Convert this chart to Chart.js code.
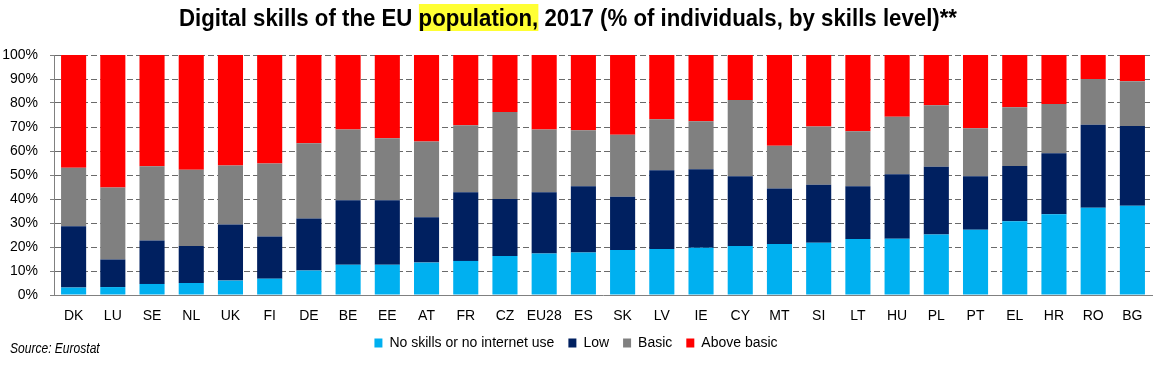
<!DOCTYPE html>
<html>
<head>
<meta charset="utf-8">
<script src="https://cdn.jsdelivr.net/npm/chart.js@4.4.1/dist/chart.umd.min.js"></script>
<style>
  html, body { margin: 0; padding: 0; background: #fff; }
  #wrap { position: relative; width: 1159px; height: 366px; }
  #titulo {
    position: absolute; top: 4px; left: 0; width: 1136px; text-align: center;
    font-family: 'Liberation Sans', Arial, sans-serif;
    font-weight: bold; font-size: 24px; color: #000;
    transform: scaleX(0.926); transform-origin: 568px 0;
  }
  #titulo span { background: #ffff33; }
  #fonte {
    position: absolute; left: 10px; top: 340px;
    font-family: 'Liberation Sans', Arial, sans-serif;
    font-style: italic; font-size: 14px; color: #000;
    transform: scaleX(0.86); transform-origin: 0 0;
  }
  canvas { position: absolute; left: 0; top: 0; }
</style>
</head>
<body>
<div id="wrap">
  <canvas id="grafico" width="1159" height="366"></canvas>
  <div id="titulo">Digital skills of the EU <span>population,</span> 2017 (% of individuals, by skills level)**</div>
  <div id="fonte">Source: Eurostat</div>
</div>
<script>
// Dados (% de indivíduos)
const paises = ['DK', 'LU', 'SE', 'NL', 'UK', 'FI', 'DE', 'BE', 'EE', 'AT', 'FR', 'CZ', 'EU28', 'ES',
  'SK', 'LV', 'IE', 'CY', 'MT', 'SI', 'LT', 'HU', 'PL', 'PT', 'EL', 'HR', 'RO', 'BG'];

const semCompetencias = [3.1, 3.3, 4.6, 5.0, 6.0, 6.8, 10.2, 12.6, 12.6, 13.5, 14.2, 16.3, 17.3, 17.7,
  18.8, 19.2, 19.7, 20.4, 21.3, 21.8, 23.3, 23.4, 25.2, 27.2, 30.7, 33.6, 36.4, 37.2];
const baixo = [25.5, 11.5, 18.1, 15.4, 23.4, 17.6, 21.7, 26.9, 26.9, 18.9, 28.6, 23.7, 25.5, 27.6,
  22.1, 32.8, 32.7, 29.1, 23.1, 24.1, 22.0, 26.9, 28.2, 22.3, 23.0, 25.5, 34.5, 33.2];
const basico = [24.4, 30.0, 30.9, 31.8, 24.6, 30.4, 31.3, 29.5, 25.8, 31.6, 27.9, 36.3, 26.2, 23.3,
  25.9, 21.2, 20.0, 31.7, 17.8, 24.3, 22.9, 24.0, 25.7, 20.0, 24.5, 20.5, 19.1, 18.7];
const acimaBasico = [47.1, 55.2, 46.4, 47.8, 46.0, 45.2, 36.8, 31.0, 34.7, 36.0, 29.3, 23.7, 31.0, 31.4,
  33.2, 26.8, 27.6, 18.8, 37.8, 29.8, 31.8, 25.7, 20.9, 30.5, 21.8, 20.4, 10.0, 10.9];

const ticksY = [0, 10, 20, 30, 40, 50, 60, 70, 80, 90, 100];

const fonteTexto = "'Liberation Sans', Arial, sans-serif";

function serie(rotulo, dados, cor) {
  return {
    label: rotulo,
    data: dados,
    backgroundColor: cor,
    borderWidth: 0,
    categoryPercentage: 1.0,
    barPercentage: 0.64
  };
}

new Chart(document.getElementById('grafico'), {
  type: 'bar',
  data: {
    labels: paises,
    datasets: [
      serie('No skills or no internet use', semCompetencias, '#00b0f0'),
      serie('Low', baixo, '#002060'),
      serie('Basic', basico, '#808080'),
      serie('Above basic', acimaBasico, '#ff0000')
    ]
  },
  options: {
    responsive: false,
    animation: false,
    layout: { padding: { top: 55, right: 7, left: 0, bottom: 6 } },
    plugins: {
      title: { display: false },
      tooltip: { enabled: false },
      legend: {
        position: 'bottom',
        labels: {
          boxWidth: 8,
          boxHeight: 9,
          padding: 14,
          color: '#000',
          font: { family: fonteTexto, size: 14 }
        }
      }
    },
    scales: {
      x: {
        stacked: true,
        grid: { display: false },
        border: { color: '#808080', width: 1 },
        ticks: {
          color: '#000',
          padding: 5,
          maxRotation: 0,
          autoSkip: false,
          font: { family: fonteTexto, size: 14 }
        },
        afterFit: function (eixo) { eixo.height = 27; }
      },
      y: {
        stacked: true,
        min: 0,
        max: 100,
        afterBuildTicks: function (eixo) {
          eixo.ticks = ticksY.map(v => ({ value: v }));
        },
        afterFit: function (eixo) { eixo.width = 54; },
        grid: {
          color: '#6a6a6a',
          lineWidth: 1,
          drawTicks: true,
          tickLength: 4,
          tickColor: '#808080',
          tickBorderDash: []
        },
        border: { display: true, color: '#808080', width: 1, dash: [6, 3] },
        ticks: {
          color: '#000',
          padding: 12,
          font: { family: fonteTexto, size: 14 },
          callback: v => v + '%'
        }
      }
    }
  }
});
</script>
</body>
</html>
